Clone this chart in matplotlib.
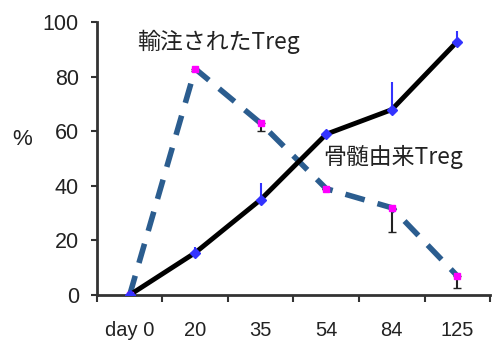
import matplotlib
matplotlib.use("Agg")
import matplotlib.pyplot as plt
import numpy as np

plt.rcParams['font.family'] = ['Liberation Sans', 'Noto Sans CJK JP', 'DejaVu Sans']

days = ["day 0", "20", "35", "54", "84", "125"]
bm_treg = [0, 15.5, 35, 59, 68, 93]          # 骨髄由来Treg
bm_err = [0, 2, 6, 0, 10, 4]
inf_treg = [0, 83, 63, 39, 32, 7]            # 輸注されたTreg
inf_err = [0, 1, 3, 0, 9, 4.5]

x = np.arange(len(days))

fig = plt.figure(figsize=(4.92, 3.45), dpi=100)
ax = fig.add_axes([0.197, 0.145, 0.799, 0.79])

# infused Treg: dashed blue, magenta markers, downward error bars
ax.errorbar(x, inf_treg, yerr=[inf_err, [0] * len(x)], fmt="none",
            ecolor="#222222", elinewidth=1.5, capsize=3, zorder=2)
ax.plot(x, inf_treg, color="#2b5d8f", lw=4, ls=(0, (3.6, 2.4)), zorder=3)
ax.plot(x, inf_treg, ls="none", marker="s", ms=4, color="#ff00ff", zorder=5)

# bone-marrow derived Treg: black line, blue diamonds, upward error bars
ax.errorbar(x, bm_treg, yerr=[[0] * len(x), bm_err], fmt="none",
            ecolor="#3333ff", elinewidth=1.5, capsize=0, zorder=4)
ax.plot(x, bm_treg, color="black", lw=3.5, zorder=4)
ax.plot(x, bm_treg, ls="none", marker="D", ms=5, color="#3333ff", zorder=5)

ax.set_xlim(-0.5, len(x) - 0.5)
ax.set_ylim(0, 100)
ax.set_yticks(range(0, 101, 20))
ax.set_xticks(x)
ax.set_xticklabels(days)
ax.set_xticks(np.arange(len(x) + 1) - 0.5, minor=True)
ax.tick_params(axis="x", which="major", length=0, pad=19, labelsize=14.5)
ax.tick_params(axis="x", which="minor", length=5, width=1.5, color="#333333")
ax.tick_params(axis="y", length=4, width=1.5, color="#333333", labelsize=15.5, pad=9)
for lab in ax.get_xticklabels() + ax.get_yticklabels():
    lab.set_color("#222222")

for s in ["top", "right"]:
    ax.spines[s].set_visible(False)
for s in ["left", "bottom"]:
    ax.spines[s].set_linewidth(2)
    ax.spines[s].set_color("#333333")

ax.text(0.12, 93, "輸注されたTreg", fontsize=16.5, color="#222222",
        family=['Noto Sans CJK JP', 'DejaVu Sans'], va="center")
ax.text(2.95, 50.5, "骨髄由来Treg", fontsize=16.5, color="#222222",
        family=['Noto Sans CJK JP', 'DejaVu Sans'], va="center")
fig.text(0.045, 0.595, "%", fontsize=16, color="#222222", ha="center", va="center")

fig.savefig("out.png", dpi=100)
